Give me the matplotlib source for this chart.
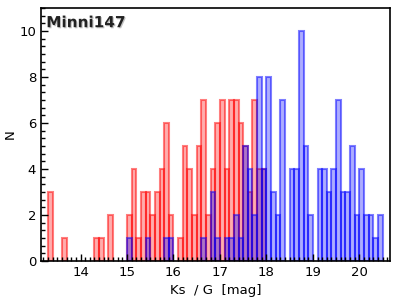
import numpy as np
import matplotlib
matplotlib.use("Agg")
import matplotlib.pyplot as plt
from matplotlib.ticker import MultipleLocator
import matplotlib.patheffects as pe

# histogram bins (left edges, 0.1 mag wide) and counts
red_start = 13.3
red_counts = [3, 0, 0, 1, 0, 0, 0, 0, 0, 0,
              1, 1, 0, 2, 0, 0, 0, 2, 4, 1,
              3, 3, 2, 3, 4, 6, 2, 0, 1, 5,
              4, 2, 5, 7, 2, 4, 6, 7, 4, 7,
              7, 6, 5, 3, 7, 4, 4]
blue_start = 15.0
blue_counts = [1, 0, 0, 0, 1, 0, 0, 0, 1, 1,
               0, 0, 0, 0, 0, 0, 1, 0, 3, 1,
               0, 1, 1, 2, 1, 5, 4, 2, 8, 4,
               8, 3, 2, 7, 0, 4, 4, 10, 5, 2,
               0, 4, 4, 3, 4, 7, 3, 3, 5, 2,
               4, 2, 2, 1, 2]
bin_width = 0.1
label = "Minni147"


def edges_for(start, counts):
    return np.round(start + bin_width * np.arange(len(counts)), 2)


fig = plt.figure(figsize=(4, 3), dpi=100)
ax = fig.add_axes([0.1025, 0.13, 0.8725, 0.843])

for start, counts, col in [(red_start, red_counts, (1, 0, 0)),
                           (blue_start, blue_counts, (0, 0, 1))]:
    x = edges_for(start, counts)
    h = np.array(counts)
    keep = h > 0
    ax.bar(x[keep], h[keep], width=bin_width, align='edge',
           facecolor=col + (0.32,), edgecolor=col + (0.5,), linewidth=1.5)

ax.set_xlim(13.15, 20.66)
ax.set_ylim(0, 11)
ax.xaxis.set_major_locator(MultipleLocator(1))
ax.xaxis.set_minor_locator(MultipleLocator(0.1))
ax.yaxis.set_major_locator(MultipleLocator(2))
ax.yaxis.set_minor_locator(MultipleLocator(1 / 3))
ax.tick_params(which='both', direction='in', top=False, right=False,
               labelsize=9.5, width=1)
ax.tick_params(which='major', length=5)
ax.tick_params(which='minor', length=3)
for s in ax.spines.values():
    s.set_linewidth(1.2)

ax.set_xlabel("Ks  / G  [mag]", fontsize=9.5, labelpad=4)
ax.set_ylabel("N", fontsize=9.5, labelpad=2)

ax.text(0.015, 0.972, label, transform=ax.transAxes, ha='left', va='top',
        fontsize=11, fontweight='bold', color='#222222',
        path_effects=[pe.withSimplePatchShadow(offset=(0.8, -0.8),
                                               shadow_rgbFace='#999999', alpha=0.6)])

fig.savefig("out.png", dpi=100)
